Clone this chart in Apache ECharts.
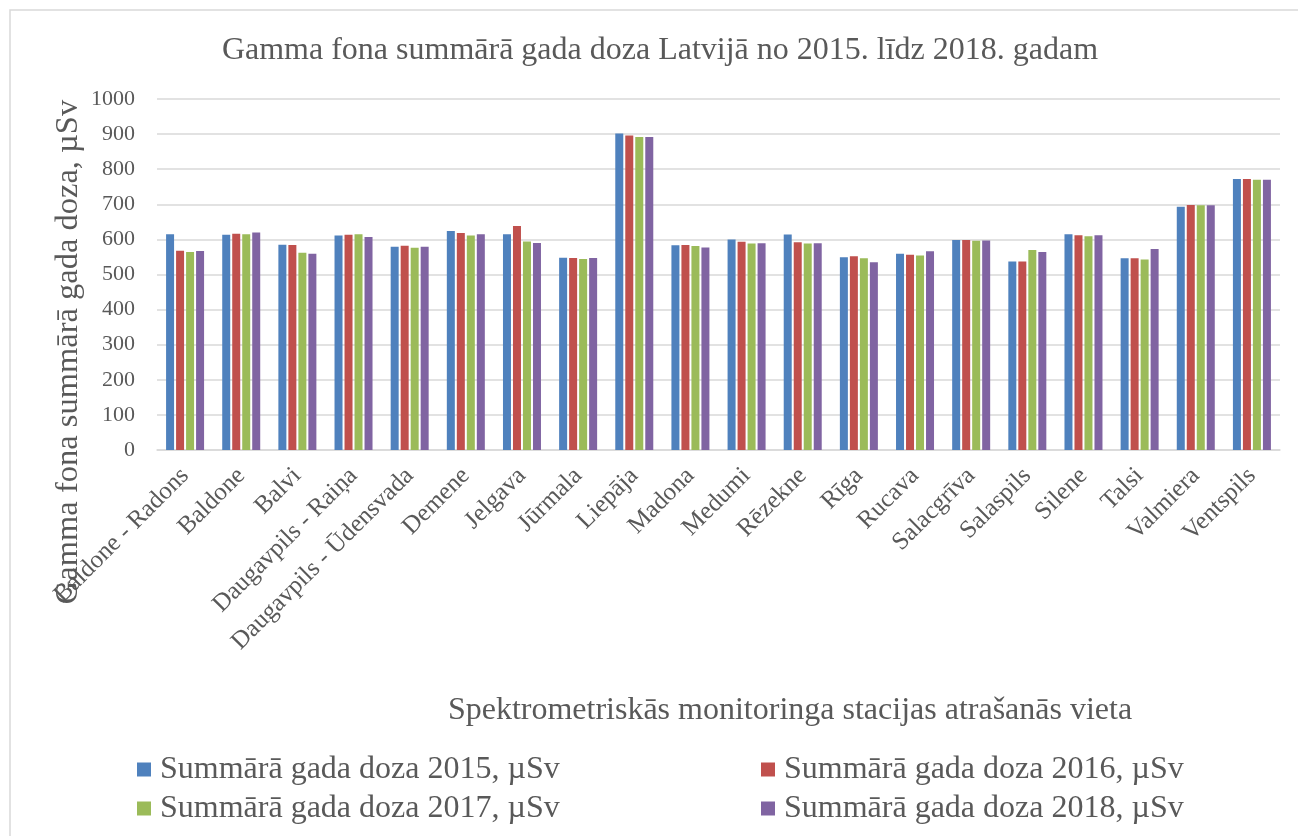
<!DOCTYPE html>
<html>
<head>
<meta charset="utf-8">
<script src="https://cdn.jsdelivr.net/npm/echarts@6/dist/echarts.min.js"></script>
<style>html,body{margin:0;padding:0;background:#fff;}#c{width:1298px;height:836px;}</style>
</head>
<body>
<div id="c"></div>
<script>
const categories = ["Baldone - Radons","Baldone","Balvi","Daugavpils - Raiņa","Daugavpils - Ūdensvada","Demene","Jelgava","Jūrmala","Liepāja","Madona","Medumi","Rēzekne","Rīga","Rucava","Salacgrīva","Salaspils","Silene","Talsi","Valmiera","Ventspils"];
const dose2015 = [615,613,585,611,579,624,615,548,902,583,600,614,549,559,598,537,615,546,693,772];
const dose2016 = [568,616,584,613,582,618,638,547,896,584,593,592,552,556,598,537,612,546,698,772];
const dose2017 = [564,615,562,615,576,611,594,544,892,581,588,588,546,554,596,570,609,543,697,770];
const dose2018 = [567,620,559,607,579,615,590,547,892,577,589,589,535,566,597,564,612,573,697,770];
const seriesNames = ["Summārā gada doza 2015, µSv","Summārā gada doza 2016, µSv","Summārā gada doza 2017, µSv","Summārā gada doza 2018, µSv"];
const yTicks = [0,100,200,300,400,500,600,700,800,900,1000];

const FONT = "'Liberation Serif','Times New Roman',serif";
const TXT = '#595959';
const colors = ['#4f81bd','#c0504d','#9bbb59','#8064a2'];
const allData = [dose2015,dose2016,dose2017,dose2018];

const chart = echarts.init(document.getElementById('c'), null, {renderer:'canvas'});
chart.setOption({
  animation:false,
  backgroundColor:'#fff',
  color:colors,
  textStyle:{fontFamily:FONT},
  title:{
    text:'Gamma fona summārā gada doza Latvijā no 2015. līdz 2018. gadam',
    left:655, top:30, textAlign:'center',
    textStyle:{fontFamily:FONT,fontSize:32,fontWeight:'normal',color:TXT}
  },
  legend:[
    {data:[seriesNames[0],seriesNames[2]], orient:'vertical', left:137, top:750, itemWidth:14, itemHeight:14, itemGap:0, padding:0,
     icon:'rect', textStyle:{fontFamily:FONT,fontSize:32,color:TXT,lineHeight:39,padding:[0,0,0,4]}},
    {data:[seriesNames[1],seriesNames[3]], orient:'vertical', left:761, top:750, itemWidth:14, itemHeight:14, itemGap:0, padding:0,
     icon:'rect', textStyle:{fontFamily:FONT,fontSize:32,color:TXT,lineHeight:39,padding:[0,0,0,4]}}
  ],
  grid:{left:157,right:18,top:99,bottom:386,containLabel:false},
  xAxis:{
    type:'category', data:categories,
    axisLine:{lineStyle:{color:'#d9d9d9',width:1.5}},
    axisTick:{show:false},
    axisLabel:{rotate:45,fontFamily:FONT,fontSize:25,color:TXT,margin:22,interval:0},
    name:'Spektrometriskās monitoringa stacijas atrašanās vieta',
    nameLocation:'middle', nameGap:245,
    nameTextStyle:{fontFamily:FONT,fontSize:32,color:TXT,padding:[0,0,0,143]}
  },
  yAxis:{
    type:'value', min:0, max:1000, interval:100,
    axisLine:{show:false}, axisTick:{show:false},
    splitLine:{lineStyle:{color:'#d9d9d9',width:1.5}},
    axisLabel:{fontFamily:FONT,fontSize:22,color:TXT,margin:22,
      formatter:function(v){return yTicks.indexOf(v)>=0?String(v):'';}}
  },
  graphic:[
    {type:'rect',shape:{x:10,y:10,width:1400,height:1000},style:{fill:'none',stroke:'#d9d9d9',lineWidth:1.5},silent:true,z:-1},
    {type:'text',x:68,y:352,rotation:Math.PI/2,
     style:{text:'Gamma fona summārā gada doza, µSv',font:"32.5px 'Liberation Serif','Times New Roman',serif",fill:TXT,textAlign:'center',textVerticalAlign:'middle'}}
  ],
  series: allData.map(function(d,i){
    return {name:seriesNames[i],type:'bar',data:d,barWidth:8,barGap:'25%',
      itemStyle:{color:colors[i]}};
  })
});
</script>
</body>
</html>
